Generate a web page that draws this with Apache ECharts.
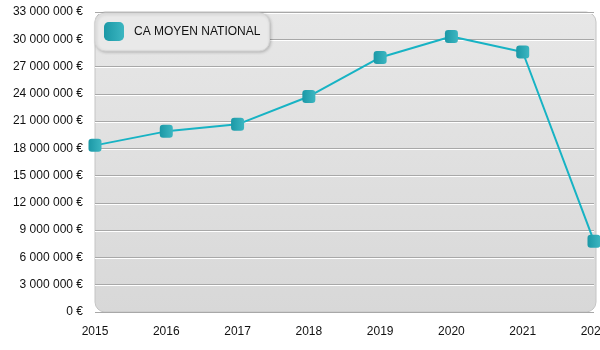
<!DOCTYPE html>
<html>
<head>
<meta charset="utf-8">
<script src="https://cdn.jsdelivr.net/npm/echarts@6/dist/echarts.min.js"></script>
<style>
html,body{margin:0;padding:0;background:#fff;}
#c{width:600px;height:350px;}
</style>
</head>
<body>
<div id="c"></div>
<script>
const years = ['2015','2016','2017','2018','2019','2020','2021','2022'];
const caMoyen = [18330000, 19870000, 20640000, 23710000, 28000000, 30300000, 28600000, 7780000];
const seriesName = 'CA MOYEN NATIONAL';
const yMax = 33000000;
const yStep = 3000000;

function fmt(v){
  return String(Math.round(v)).replace(/\B(?=(\d{3})+(?!\d))/g, ' ') + ' €';
}

const chart = echarts.init(document.getElementById('c'), null, {renderer:'canvas'});
const markerFill = new echarts.graphic.LinearGradient(0,0,1,0,[
  {offset:0,color:'#1b98a6'},{offset:1,color:'#3cb6c1'}
]);
chart.setOption({
  animation:false,
  textStyle:{fontFamily:'Liberation Sans, Arial, sans-serif'},
  graphic:[{
    type:'rect', z:-10, silent:true,
    shape:{x:95,y:12,width:501,height:300,r:10},
    style:{
      fill:new echarts.graphic.LinearGradient(0,0,0,1,[
        {offset:0,color:'#e7e7e7'},{offset:1,color:'#d8d8d8'}
      ]),
      stroke:'#c4c4c4', lineWidth:1
    }
  }],
  grid:{left:95,right:6,top:12,bottom:38,containLabel:false,outerBoundsMode:'none'},
  legend:{
    left:95, top:13,
    data:[{name:seriesName, icon:'roundRect', itemStyle:{color:markerFill}}],
    itemWidth:20, itemHeight:19, itemGap:10,
    padding:[9,9,10,9],
    backgroundColor:'#e9e9e9',
    borderColor:'#d4d4d4', borderWidth:1, borderRadius:10,
    shadowColor:'rgba(0,0,0,0.2)', shadowBlur:3, shadowOffsetX:1, shadowOffsetY:1,
    textStyle:{fontSize:12, color:'#111', fontFamily:'Liberation Sans, Arial, sans-serif', padding:[0,0,0,5]}
  },
  xAxis:{
    type:'category', data:years, boundaryGap:false,
    axisLine:{show:false}, axisTick:{show:false},
    axisLabel:{color:'#111', fontSize:12, margin:14, showMaxLabel:true, hideOverlap:false},
    splitLine:{show:false}
  },
  yAxis:{
    type:'value', min:0, max:yMax, interval:yStep,
    axisLine:{show:false}, axisTick:{show:false},
    axisLabel:{color:'#111', fontSize:12, margin:12, formatter:fmt, padding:[4,0,0,0]},
    splitLine:{show:true, lineStyle:{color:'#a8a8a8', width:1, shadowColor:'#ffffff', shadowOffsetY:1, shadowBlur:0}}
  },
  series:[{
    name:seriesName, type:'line', data:caMoyen,
    symbol:'roundRect', symbolSize:13,
    lineStyle:{color:'#17b3c4', width:2},
    itemStyle:{color:markerFill, borderWidth:0},
    z:5
  }]
});
</script>
</body>
</html>
